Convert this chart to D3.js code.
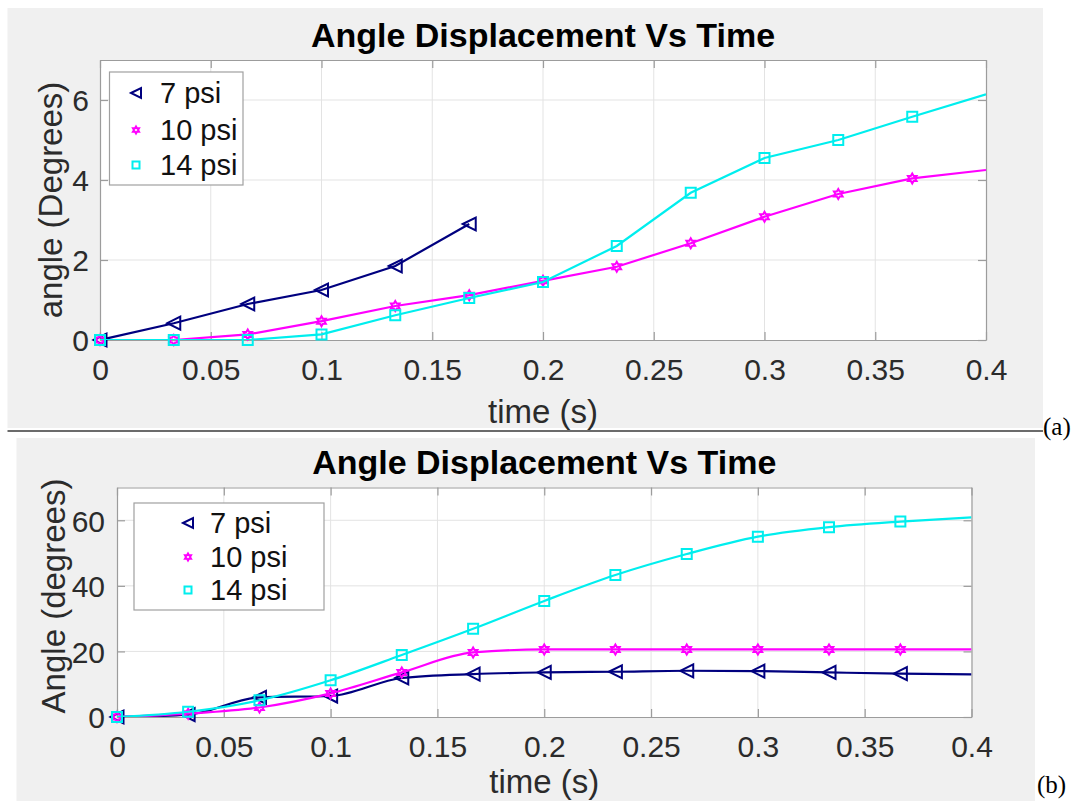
<!DOCTYPE html>
<html>
<head>
<meta charset="utf-8">
<script src="https://cdn.jsdelivr.net/npm/d3@7/dist/d3.min.js"></script>
<style>
  html, body { margin: 0; padding: 0; background: #ffffff; }
  svg { display: block; }
  text { font-family: "Liberation Sans", Arial, Helvetica, sans-serif; }
</style>
</head>
<body>
<svg id="chart" width="1081" height="801"></svg>
<script>
// ---------------- DATA ----------------
const seriesNames = ["7 psi", "10 psi", "14 psi"];
const seriesColors = ["#00007f", "#ff00ff", "#00eeee"];
const seriesMarkers = ["triangleLeft", "hexagram", "square"];

const time = [0, 0.0333, 0.0667, 0.1, 0.1333, 0.1667, 0.2, 0.2333, 0.2667, 0.3, 0.3333, 0.3667, 0.4];
const xTicks = [0, 0.05, 0.1, 0.15, 0.2, 0.25, 0.3, 0.35, 0.4];
const xTickLabels = ["0", "0.05", "0.1", "0.15", "0.2", "0.25", "0.3", "0.35", "0.4"];

// Panel (a)
const topYTicks = [0, 2, 4, 6];
const top7psi  = [0, 0.42, 0.90, 1.25, 1.85, 2.90];
const top10psi = [0, 0, 0.14, 0.47, 0.85, 1.12, 1.48, 1.83, 2.42, 3.08, 3.65, 4.04, 4.25];
const top14psi = [0, 0, 0, 0.14, 0.62, 1.05, 1.45, 2.35, 3.68, 4.55, 5.00, 5.58, 6.14];

// Panel (b)
const botYTicks = [0, 20, 40, 60];
const bot7psi  = [0, 0.7, 6.0, 6.4, 11.9, 13.1, 13.6, 13.8, 14.1, 14.0, 13.6, 13.2, 13.0];
const bot10psi = [0, 1.0, 2.9, 7.2, 13.6, 19.7, 20.6, 20.6, 20.6, 20.6, 20.6, 20.6, 20.6];
const bot14psi = [0, 1.6, 5.1, 11.2, 18.9, 26.9, 35.4, 43.3, 49.7, 55.0, 57.9, 59.6, 60.9];

const titleText = "Angle Displacement Vs Time";
const xLabelText = "time (s)";

// ---------------- DRAWING ----------------
const svg = d3.select("#chart");

function hexagramPath(r) {
  const pts = [];
  for (let i = 0; i < 12; i++) {
    const a = -Math.PI / 2 + i * Math.PI / 6;
    const rr = (i % 2 === 0) ? r : r / Math.sqrt(3);
    pts.push([rr * Math.cos(a), rr * Math.sin(a)]);
  }
  return "M" + pts.map(p => p[0].toFixed(2) + "," + p[1].toFixed(2)).join("L") + "Z";
}
function markerPath(type, s) {
  if (type === "square") {
    const h = s / 2;
    return `M${-h},${-h}L${h},${-h}L${h},${h}L${-h},${h}Z`;
  }
  if (type === "triangleLeft") {
    const w = s * 0.5, hh = s * 0.5;
    return `M${-w},0L${w},${-hh}L${w},${hh}Z`;
  }
  return hexagramPath(s / 2);
}

function drawPanel(cfg) {
  const g = svg.append("g");
  // background
  g.append("rect")
    .attr("x", cfg.bg[0]).attr("y", cfg.bg[1])
    .attr("width", cfg.bg[2] - cfg.bg[0]).attr("height", cfg.bg[3] - cfg.bg[1])
    .attr("fill", "#f0f0f0");

  const x = d3.scaleLinear().domain([0, 0.4]).range([cfg.x0, cfg.x1]);
  const y = d3.scaleLinear().domain(cfg.yDomain).range([cfg.y0, cfg.y1]);

  // plot area
  g.append("rect")
    .attr("x", cfg.x0).attr("y", cfg.y1)
    .attr("width", cfg.x1 - cfg.x0).attr("height", cfg.y0 - cfg.y1)
    .attr("fill", "#ffffff");

  // grid
  g.append("g").selectAll("line").data(xTicks.slice(1, -1)).join("line")
    .attr("x1", d => x(d)).attr("x2", d => x(d))
    .attr("y1", cfg.y1).attr("y2", cfg.y0)
    .attr("stroke", "#e3e3e3").attr("stroke-width", 1);
  g.append("g").selectAll("line").data(cfg.yTicks.slice(1)).join("line")
    .attr("x1", cfg.x0).attr("x2", cfg.x1)
    .attr("y1", d => y(d)).attr("y2", d => y(d))
    .attr("stroke", "#e3e3e3").attr("stroke-width", 1);

  // axes via d3 axis (inner ticks)
  const tl = 8;
  const axB = g.append("g").attr("transform", `translate(0,${cfg.y0})`)
    .call(d3.axisBottom(x).tickValues(xTicks).tickFormat((d, i) => xTickLabels[i]).tickSizeInner(-tl).tickSizeOuter(0).tickPadding(0));
  const axT = g.append("g").attr("transform", `translate(0,${cfg.y1})`)
    .call(d3.axisTop(x).tickValues(xTicks).tickFormat("").tickSizeInner(-tl).tickSizeOuter(0));
  const axL = g.append("g").attr("transform", `translate(${cfg.x0},0)`)
    .call(d3.axisLeft(y).tickValues(cfg.yTicks).tickFormat(d3.format("d")).tickSizeInner(-tl).tickSizeOuter(0));
  const axR = g.append("g").attr("transform", `translate(${cfg.x1},0)`)
    .call(d3.axisRight(y).tickValues(cfg.yTicks).tickFormat("").tickSizeInner(-tl).tickSizeOuter(0));
  [axB, axT, axL, axR].forEach(a => {
    a.select(".domain").attr("stroke", "#9c9c9c").attr("stroke-width", 1.2);
    a.selectAll(".tick line").attr("stroke", "#9c9c9c").attr("stroke-width", 1.2);
  });
  axB.selectAll(".tick text")
    .attr("y", cfg.xTickBase - cfg.y0).attr("dy", null)
    .attr("font-size", 30).attr("fill", "#2b2b2b")
    .style("font-family", '"Liberation Sans", Arial, sans-serif');
  axL.selectAll(".tick text")
    .attr("x", -cfg.yTickGap).attr("dy", "0.36em")
    .attr("font-size", 30).attr("fill", "#2b2b2b")
    .style("font-family", '"Liberation Sans", Arial, sans-serif');

  // clip
  const clipId = "clip" + cfg.id;
  svg.append("defs").append("clipPath").attr("id", clipId)
    .append("rect").attr("x", cfg.x0).attr("y", cfg.y1)
    .attr("width", cfg.x1 - cfg.x0).attr("height", cfg.y0 - cfg.y1);

  const line = d3.line().x(d => x(d[0])).y(d => y(d[1])).curve(cfg.curve);

  cfg.series.forEach((vals, i) => {
    const pts = vals.map((v, k) => [time[k], v]);
    g.append("path").attr("d", line(pts))
      .attr("fill", "none").attr("stroke", seriesColors[i]).attr("stroke-width", 2.2)
      .attr("clip-path", `url(#${clipId})`);
    const mpts = pts.filter(p => p[0] < 0.399);
    const ms = seriesMarkers[i] === "triangleLeft" ? 13 : 10;
    g.append("g").selectAll("path").data(mpts).join("path")
      .attr("transform", d => `translate(${x(d[0])},${y(d[1])})`)
      .attr("d", markerPath(seriesMarkers[i], ms))
      .attr("fill", "none").attr("stroke", seriesColors[i]).attr("stroke-width", 2);
  });

  // title
  g.append("text").attr("x", (cfg.x0 + cfg.x1) / 2).attr("y", cfg.titleBase)
    .attr("text-anchor", "middle").attr("font-size", 34).attr("font-weight", "bold")
    .attr("fill", "#000").text(titleText);
  // x label
  g.append("text").attr("x", (cfg.x0 + cfg.x1) / 2).attr("y", cfg.xLabelBase)
    .attr("text-anchor", "middle").attr("font-size", 33).attr("fill", "#2b2b2b").text(xLabelText);
  // y label
  g.append("text").attr("transform", `translate(${cfg.yLabelX},${cfg.yLabelY}) rotate(-90)`)
    .attr("text-anchor", "middle").attr("font-size", 33).attr("fill", "#2b2b2b").text(cfg.yLabel);

  // legend
  const L = cfg.legend;
  g.append("rect").attr("x", L.x).attr("y", L.y).attr("width", L.w).attr("height", L.h)
    .attr("fill", "#ffffff").attr("stroke", "#a0a0a0").attr("stroke-width", 1.2);
  seriesNames.forEach((name, i) => {
    const ms = seriesMarkers[i] === "triangleLeft" ? 10 : 7;
    g.append("path").attr("transform", `translate(${L.mx},${L.rows[i]})`)
      .attr("d", markerPath(seriesMarkers[i], ms))
      .attr("fill", "none").attr("stroke", seriesColors[i]).attr("stroke-width", 2);
    g.append("text").attr("x", L.tx).attr("y", L.rows[i]).attr("dy", "0.36em")
      .attr("font-size", 29).attr("fill", "#111").text(name);
  });

  // panel tag
  g.append("text").attr("x", cfg.tag.x).attr("y", cfg.tag.y)
    .style("font-family", '"Liberation Serif", "Times New Roman", serif')
    .attr("font-size", 25).attr("fill", "#000").text(cfg.tag.text);
}

drawPanel({
  id: "a",
  bg: [7.5, 8, 1043, 428],
  x0: 100, x1: 986, y0: 340, y1: 60,
  yDomain: [0, 7], yTicks: topYTicks, yTickGap: 11,
  xTickBase: 380, xLabelBase: 423, titleBase: 47,
  yLabel: "angle (Degrees)", yLabelX: 62, yLabelY: 200,
  curve: d3.curveLinear,
  series: [top7psi, top10psi, top14psi],
  legend: { x: 109.5, y: 72, w: 133.5, h: 113, rows: [93, 130, 165], mx: 136, tx: 160 },
  tag: { x: 1043, y: 435, text: "(a)" }
});

drawPanel({
  id: "b",
  bg: [16.5, 438, 1035, 801],
  x0: 117, x1: 971.5, y0: 717, y1: 487.5,
  yDomain: [0, 70], yTicks: botYTicks, yTickGap: 12,
  xTickBase: 757, xLabelBase: 793, titleBase: 474,
  yLabel: "Angle (degrees)", yLabelX: 65, yLabelY: 596,
  curve: d3.curveMonotoneX,
  series: [bot7psi, bot10psi, bot14psi],
  legend: { x: 134, y: 503, w: 190, h: 107, rows: [523, 557, 590], mx: 188, tx: 210 },
  tag: { x: 1037, y: 793, text: "(b)" }
});

// separator line under panel (a)
svg.append("line").attr("x1", 7.5).attr("x2", 1043).attr("y1", 431).attr("y2", 431)
  .attr("stroke", "#3a3a3a").attr("stroke-width", 1.5);
</script>
</body>
</html>
